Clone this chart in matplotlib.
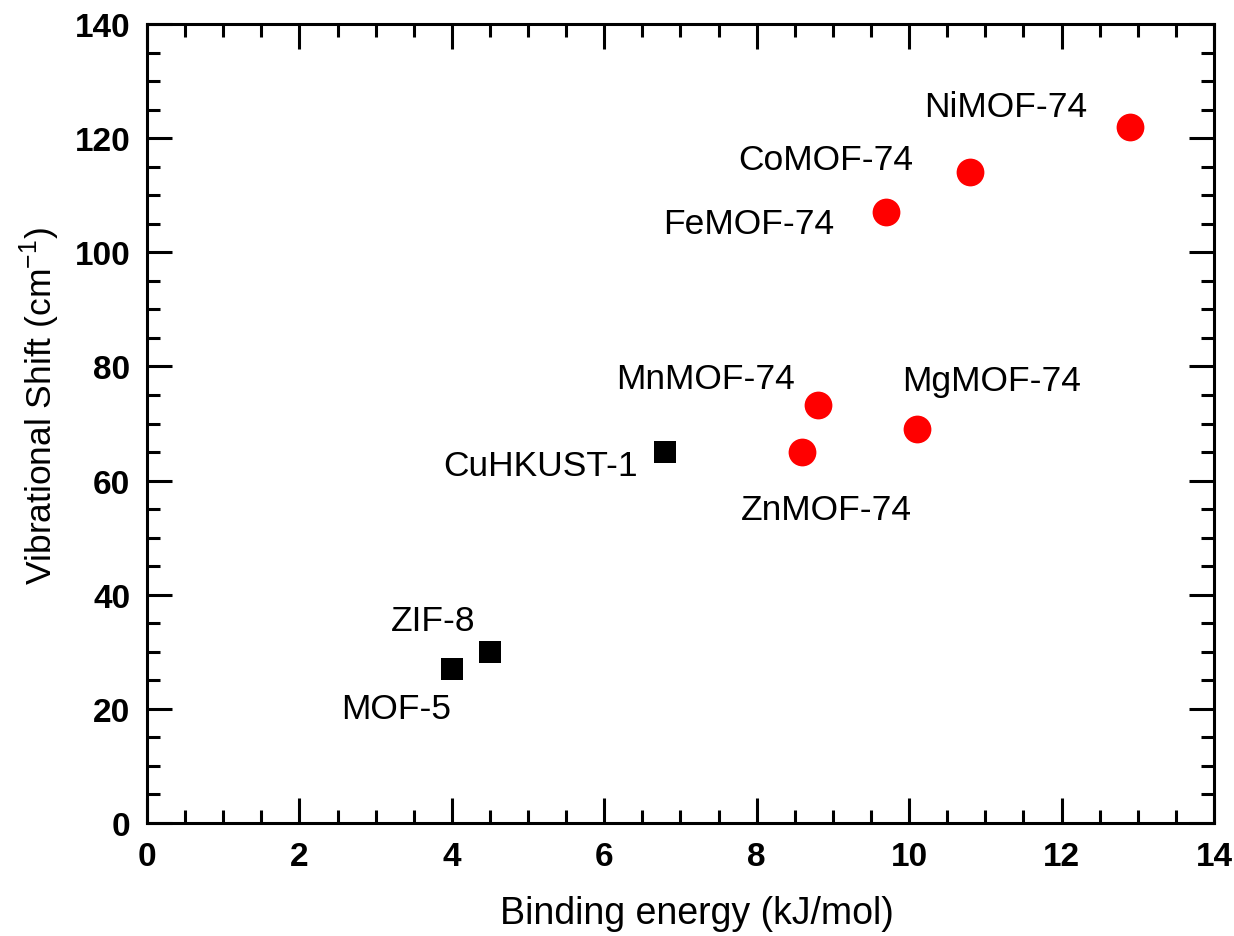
import matplotlib
matplotlib.use("Agg")
import matplotlib.pyplot as plt
from matplotlib.ticker import MultipleLocator

plt.rcParams['font.family'] = ['Liberation Sans', 'DejaVu Sans']
plt.rcParams['mathtext.fontset'] = 'custom'
plt.rcParams['mathtext.rm'] = 'Liberation Sans'

# Non-MOF-74 frameworks (black squares)
sq_names = ["MOF-5", "ZIF-8", "CuHKUST-1"]
sq_energy = [4.0, 4.5, 6.8]
sq_shift = [27, 30, 65]

# MOF-74 series (red circles)
mof74_names = ["ZnMOF-74", "MnMOF-74", "MgMOF-74", "FeMOF-74", "CoMOF-74", "NiMOF-74"]
mof74_energy = [8.6, 8.8, 10.1, 9.7, 10.8, 12.9]
mof74_shift = [65, 73.2, 69, 107, 114, 122]

# label anchor positions (data coordinates, centred)
sq_label_pos = [(3.27, 20.1), (3.75, 35.4), (5.17, 62.6)]
mof74_label_pos = [(8.91, 55.0), (7.33, 77.8), (11.08, 77.6), (7.89, 105.0), (8.91, 116.3), (11.27, 125.6)]

fig = plt.figure(figsize=(12.34, 9.37), dpi=100)
ax = fig.add_axes([0.1191, 0.1206, 0.9838 - 0.1191, 0.9733 - 0.1206])

ax.plot(sq_energy, sq_shift, linestyle='none', marker='s', markersize=16,
        color='black', markeredgewidth=0)
ax.plot(mof74_energy, mof74_shift, linestyle='none', marker='o', markersize=20,
        color='#ff0000', markeredgewidth=0)

for name, (x, y) in zip(sq_names + mof74_names, sq_label_pos + mof74_label_pos):
    ax.text(x, y, name, fontsize=25.5, ha='center', va='center')

ax.set_xlim(0, 14)
ax.set_ylim(0, 140)
ax.xaxis.set_major_locator(MultipleLocator(2))
ax.xaxis.set_minor_locator(MultipleLocator(0.5))
ax.yaxis.set_major_locator(MultipleLocator(20))
ax.yaxis.set_minor_locator(MultipleLocator(5))

for s in ax.spines.values():
    s.set_linewidth(2.2)
ax.tick_params(which='both', direction='in', top=True, right=True, width=2.2)
ax.tick_params(which='major', length=18, labelsize=24)
ax.tick_params(axis='x', which='major', pad=13)
ax.tick_params(axis='y', which='major', pad=12)
ax.tick_params(which='minor', length=9.5)
for lab in ax.get_xticklabels() + ax.get_yticklabels():
    lab.set_fontweight('bold')

ax.set_xlabel("Binding energy (kJ/mol)", fontsize=27)
ax.set_ylabel(r"Vibrational Shift (cm$^{-1}$)", fontsize=25.5)
ax.xaxis.set_label_coords(0.515, -0.0901)
ax.yaxis.set_label_coords(-0.0797, 0.523)

fig.savefig("out.png", dpi=100)
